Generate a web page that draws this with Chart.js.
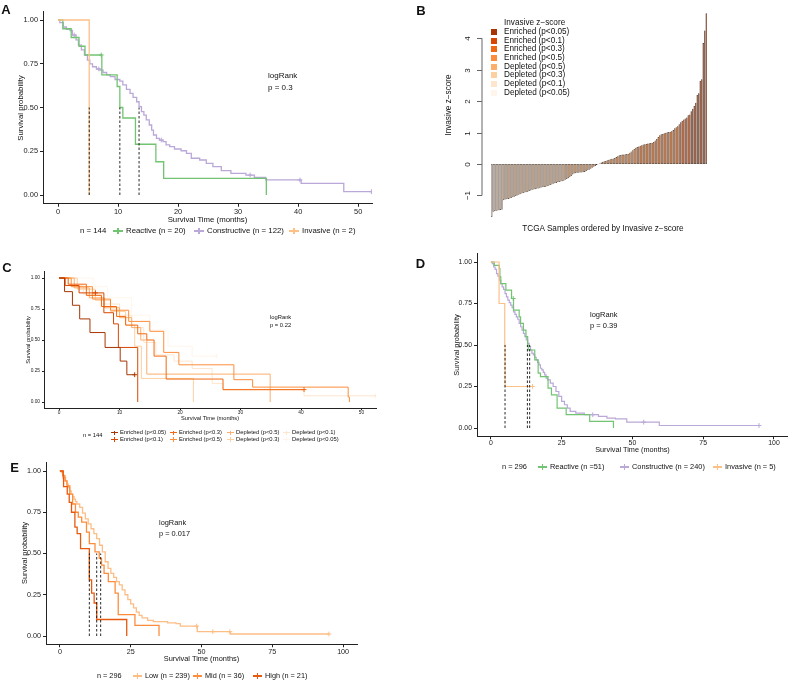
<!DOCTYPE html>
<html>
<head>
<meta charset="utf-8">
<script src="https://cdn.jsdelivr.net/npm/chart.js@4.4.1/dist/chart.umd.min.js"></script>
<style>
body { margin: 0; background: #fff; }
#fig { position: relative; width: 792px; height: 687px; overflow: hidden; font-family: "Liberation Sans", Arial, sans-serif; color: #111; }
#fig canvas { position: absolute; }
.t { position: absolute; white-space: nowrap; line-height: 1; }
.key { position: absolute; height: 1.3px; }
.key::after { content: ''; position: absolute; left: 50%; top: -2.2px; width: 1.1px; height: 5.6px; margin-left: -0.55px; background: inherit; }
.key.small::after { top: -1.5px; height: 4.2px; width: 0.9px; }
.sq { position: absolute; width: 6px; height: 6px; }
</style>
</head>
<body>
<div id="fig">
  <canvas id="kmA" width="380" height="245" style="left:0;top:0"></canvas>
  <canvas id="barB" width="392" height="240" style="left:400px;top:0"></canvas>
  <canvas id="kmC" width="385" height="190" style="left:0;top:255px"></canvas>
  <canvas id="kmD" width="392" height="215" style="left:400px;top:245px"></canvas>
  <canvas id="kmE" width="380" height="210" style="left:0;top:455px"></canvas>
</div>
<script>
// ---- data ----

const survTicks = [0, 0.25, 0.5, 0.75, 1];
const monthTicksShort = [0, 10, 20, 30, 40, 50];
const monthTicksLong = [0, 25, 50, 75, 100];

// A: subtype survival, TCGA (n = 144)
const classNamesA = ['Reactive (n = 20)', 'Constructive (n = 122)', 'Invasive (n = 2)'];
const classColors = ['#72C472', '#B9A8D8', '#FDC086'];
const aReactT = [0, 0.8, 2.2, 3.5, 4.5, 7.2, 7.3, 9.85, 10.3, 10.8, 12.9, 16.3, 17.6, 34.7];
const aReactS = [1, 0.95, 0.90, 0.85, 0.80, 0.80, 0.686, 0.62, 0.50, 0.44, 0.29, 0.19, 0.095, 0];
const aConsT = [0, 0.3, 0.9, 1.4, 2.0, 2.4, 2.7, 3.0, 3.4, 3.9, 4.4, 4.9, 5.3, 5.75, 6.4, 6.8, 7.0, 7.5, 8.1, 8.7, 9.5, 10.3, 10.8, 11.4, 12.0, 12.5, 13.1, 13.5, 13.9, 14.3, 14.7, 15.2, 15.6, 15.9, 16.4, 16.9, 17.2, 17.5, 18.0, 18.6, 19.4, 20.5, 21.4, 22.2, 23.6, 24.7, 25.8, 27.2, 28.8, 31.3, 32.0, 32.7, 34.6, 40.3, 40.5, 47.6, 52.2];
const aConsS = [1, 0.985, 0.96, 0.947, 0.94, 0.914, 0.914, 0.886, 0.857, 0.829, 0.80, 0.771, 0.749, 0.733, 0.72, 0.72, 0.714, 0.70, 0.686, 0.676, 0.66, 0.651, 0.629, 0.604, 0.581, 0.558, 0.533, 0.505, 0.476, 0.457, 0.429, 0.40, 0.371, 0.343, 0.324, 0.314, 0.314, 0.305, 0.286, 0.276, 0.263, 0.253, 0.238, 0.21, 0.20, 0.181, 0.162, 0.139, 0.124, 0.114, 0.114, 0.10, 0.086, 0.086, 0.067, 0.019, 0.019];
const aInvT = [0, 5.2];
const aInvS = [1, 0];
const aMedians = [5.2, 10.3, 13.5];

// B: ordered invasive z-scores (144 samples)
const zScores = [
  -1.69, -1.52, -1.50, -1.49, -1.48, -1.47, -1.46, -1.45, -1.15,
  -1.13, -1.12, -1.11, -1.10, -1.08, -1.06, -1.04, -1.02, -1.00,
  -0.98, -0.96, -0.94, -0.92, -0.91, -0.90, -0.88, -0.86, -0.84, -0.82,
  -0.81, -0.80, -0.79, -0.78, -0.77, -0.75, -0.74, -0.73, -0.72, -0.71, -0.69,
  -0.67, -0.65, -0.63, -0.61, -0.60, -0.58, -0.57, -0.56, -0.55, -0.53,
  -0.50, -0.48, -0.45, -0.42, -0.38, -0.33, -0.30,
  -0.29, -0.28, -0.28, -0.27, -0.27, -0.26, -0.25,
  -0.22, -0.20, -0.18, -0.15, -0.12, -0.09, -0.06, -0.03, -0.01,
  0.02, 0.05, 0.07, 0.09, 0.10,
  0.12, 0.14, 0.15, 0.17, 0.18, 0.19,
  0.22, 0.25, 0.28, 0.29, 0.30, 0.30, 0.31, 0.32, 0.33,
  0.36, 0.40, 0.44, 0.48,
  0.52, 0.54, 0.56, 0.58, 0.60,
  0.62, 0.63, 0.64, 0.65, 0.66,
  0.67, 0.68, 0.70, 0.75, 0.80,
  0.86, 0.92, 0.95, 0.96,
  0.98, 1.00, 1.01, 1.02, 1.03, 1.04,
  1.08, 1.14, 1.17, 1.20,
  1.27, 1.33, 1.38, 1.42,
  1.45, 1.48, 1.55, 1.58,
  1.68, 1.76, 1.85,
  1.95, 2.20, 2.25,
  2.65, 2.70,
  3.85, 4.25, 4.80
];
const zTicks = [-1, 0, 1, 2, 3, 4];
const zGroupNames = ['Enriched (p<0.05)', 'Enriched (p<0.1)', 'Enriched (p<0.3)', 'Enriched (p<0.5)',
                     'Depleted (p<0.5)', 'Depleted (p<0.3)', 'Depleted (p<0.1)', 'Depleted (p<0.05)'];
const zGroupColors = ['#A63603', '#D94801', '#F16913', '#FD8D3C', '#FDAE6B', '#FDD0A2', '#FEE6CE', '#FFF5EB'];
const zCutoffs = [1.645, 1.282, 0.524, 0, -0.524, -1.282, -1.645];

// C: survival by z-score group (n = 144)
const cE05T = [0, 0.9, 2.2, 3.4, 5.1, 7.6, 10.1, 11.2, 12.5];
const cE05S = [1, 0.89, 0.78, 0.67, 0.56, 0.44, 0.33, 0.22, 0.22];
const cE10T = [0, 1.0, 3.3, 6.0, 7.4, 9.0, 9.8, 13.0];
const cE10S = [1, 0.94, 0.88, 0.88, 0.72, 0.63, 0.44, 0];
const cE30T = [0, 1.5, 4.5, 7.0, 9.5, 11.0, 13.0, 14.5, 15.7, 17.7, 27.1, 40.5];
const cE30S = [1, 0.95, 0.86, 0.77, 0.69, 0.62, 0.55, 0.50, 0.37, 0.185, 0.10, 0.10];
const cE50T = [0, 2.0, 5.5, 8.5, 11.5, 15.0, 17.3, 19.8, 28.9, 32.0, 47.8, 48.0];
const cE50S = [1, 0.93, 0.83, 0.74, 0.65, 0.57, 0.40, 0.30, 0.18, 0.12, 0.04, 0];
const cD50T = [0, 2.5, 5.0, 7.5, 10.0, 12.0, 13.5, 14.5, 34.9];
const cD50S = [1, 0.92, 0.84, 0.76, 0.68, 0.60, 0.50, 0.225, 0];
const cD30T = [0, 3.0, 6.0, 8.5, 11.0, 12.5, 13.6, 22.2];
const cD30S = [1, 0.91, 0.82, 0.73, 0.62, 0.45, 0.19, 0];
const cD10T = [0, 1.5, 4.0, 7.0, 10.0, 12.0, 14.0, 16.0, 19.0, 22.0, 25.3, 27.1, 40.5, 52.4];
const cD10S = [1, 0.94, 0.87, 0.79, 0.70, 0.60, 0.48, 0.38, 0.33, 0.27, 0.15, 0.095, 0.05, 0.05];
const cD05T = [0, 5.6, 8.0, 12.0, 15.0, 18.0, 22.0, 26.0];
const cD05S = [1, 0.93, 0.84, 0.70, 0.58, 0.45, 0.37, 0.37];

// D: subtype survival, validation (n = 296)
const classNamesD = ['Reactive (n =51)', 'Constructive (n = 240)', 'Invasive (n = 5)'];
const dReactT = [0, 1.2, 3.0, 3.2, 3.5, 5.3, 7.3, 7.9, 8.0, 10.0, 10.5, 11.5, 12.4, 13.0, 13.2, 15.5, 16.7, 17.5, 20.2, 21.4, 23.4, 26.6, 34.9, 43.3];
const dReactS = [1, 0.98, 0.96, 0.91, 0.87, 0.83, 0.78, 0.78, 0.71, 0.67, 0.63, 0.59, 0.55, 0.50, 0.47, 0.41, 0.33, 0.31, 0.24, 0.20, 0.12, 0.08, 0.04, 0];
const dConsT = [0, 0.5, 1, 1.5, 2, 2.5, 3, 3.5, 4, 4.5, 5, 5.5, 6, 6.5, 7, 7.5, 8, 8.5, 9, 9.5, 10, 10.5, 11, 11.5, 12, 12.5, 13, 13.5, 14, 14.5, 15, 15.5, 16, 16.5, 17, 17.5, 18, 18.5, 19, 19.5, 20, 21, 22, 23, 24, 25, 26, 27, 28, 30, 33, 36, 38, 41, 44, 48, 54, 59.5, 94.7];
const dConsS = [1, 0.99, 0.97, 0.955, 0.93, 0.915, 0.89, 0.87, 0.85, 0.835, 0.81, 0.79, 0.77, 0.755, 0.74, 0.725, 0.70, 0.685, 0.67, 0.655, 0.63, 0.61, 0.59, 0.57, 0.55, 0.53, 0.51, 0.49, 0.47, 0.45, 0.44, 0.425, 0.41, 0.395, 0.38, 0.36, 0.35, 0.335, 0.32, 0.30, 0.29, 0.27, 0.25, 0.22, 0.19, 0.16, 0.14, 0.12, 0.10, 0.09, 0.08, 0.08, 0.07, 0.06, 0.055, 0.035, 0.035, 0.015, 0.015];
const dInvT = [0, 2.9, 4.9, 5.0, 14.7];
const dInvS = [1, 0.75, 0.5, 0.25, 0.25];
const dMedians = [5.0, 12.9, 13.7];

// E: survival by invasive score tertile (n = 296)
const levelNames = ['Low (n = 239)', 'Mid (n = 36)', 'High (n = 21)'];
const levelColors = ['#FDBE85', '#FD8D3C', '#E65A0F'];
const eLowT = [0, 0.5, 1, 1.5, 2, 2.5, 3, 3.5, 4, 4.5, 5, 5.5, 6, 7, 8, 9, 10, 11, 12, 13, 14, 15, 16, 17, 18, 19, 20, 21, 22, 23, 24, 25, 26, 27, 28, 29, 31, 33, 38, 41, 42.5, 48.3, 48.5, 54, 60, 60.2, 95];
const eLowS = [1, 0.99, 0.975, 0.96, 0.94, 0.92, 0.90, 0.88, 0.86, 0.845, 0.83, 0.815, 0.80, 0.78, 0.745, 0.71, 0.68, 0.65, 0.62, 0.59, 0.55, 0.51, 0.45, 0.41, 0.38, 0.355, 0.33, 0.31, 0.28, 0.25, 0.22, 0.195, 0.17, 0.145, 0.125, 0.11, 0.095, 0.087, 0.08, 0.075, 0.06, 0.06, 0.026, 0.026, 0.026, 0.012, 0.012];
const eMidT = [0, 1.0, 1.8, 2.5, 3.5, 4.5, 5.5, 6.5, 7.7, 9.4, 10.4, 12.4, 13.9, 14.7, 15.6, 17.1, 19.5, 20.6, 26.5, 35.0];
const eMidS = [1, 0.97, 0.94, 0.91, 0.86, 0.80, 0.75, 0.72, 0.69, 0.63, 0.56, 0.51, 0.47, 0.43, 0.38, 0.33, 0.26, 0.13, 0.065, 0];
const eHighT = [0, 1.2, 1.3, 2.6, 3.3, 4.1, 5.3, 6.1, 7.3, 10.4, 11.2, 12.1, 13.0, 23.6];
const eHighS = [1, 0.955, 0.905, 0.86, 0.81, 0.75, 0.66, 0.62, 0.53, 0.34, 0.26, 0.20, 0.10, 0];
const eMedians = [10.4, 13.0, 14.4];

// ---- drawing ----

const FONT = '"Liberation Sans", Arial, sans-serif';
const fig = document.getElementById('fig');

function text(str, x, y, size, opts = {}) {
    const d = document.createElement('div');
    d.className = 't';
    d.textContent = str;
    d.style.left = x + 'px';
    d.style.top = y + 'px';
    d.style.fontSize = size + 'px';
    let tr = opts.left ? 'translate(0,-50%)' : 'translate(-50%,-50%)';
    if (opts.rotate) tr += ' rotate(-90deg)';
    d.style.transform = tr;
    if (opts.bold) d.style.fontWeight = 'bold';
    fig.appendChild(d);
    return d;
}

function key(x, y, w, color, small) {
    const k = document.createElement('div');
    k.className = small ? 'key small' : 'key';
    k.style.left = x + 'px';
    k.style.top = (y - 0.65) + 'px';
    k.style.width = w + 'px';
    k.style.background = color;
    fig.appendChild(k);
}

// legend: "n = ..." then keys at given x positions
function kmLegend(y, nX, nText, keyXs, keyW, names, colors, size) {
    text(nText, nX, y, size, { left: true });
    names.forEach((nm, i) => {
        key(keyXs[i], y, keyW, colors[i]);
        text(nm, keyXs[i] + keyW + 3, y, size, { left: true });
    });
}

function kmCurve(T, S, color, width) {
    return {
        data: T.map((t, i) => ({ x: t, y: S[i] })),
        borderColor: color,
        borderWidth: width,
        stepped: true,
        fill: false,
        pointStyle: 'cross',
        pointBorderColor: color,
        pointBorderWidth: 1,
        pointRadius: ctx => (ctx.dataIndex > 0 && S[ctx.dataIndex] === S[ctx.dataIndex - 1]) ? 2.4 : 0
    };
}

function medianLine(m) {
    return {
        data: [{ x: m, y: 0 }, { x: m, y: 0.5 }],
        borderColor: '#111',
        borderWidth: 0.9,
        borderDash: [2.5, 2],
        pointRadius: 0
    };
}

const axisBorder = { display: true, color: '#222', width: 1 };

function kmChart(id, box, xRange, xTicks, tickSize, datasets) {
    const tickLen = box.tickLen || 3;
    const grid = { display: true, drawOnChartArea: false, drawTicks: true, tickLength: tickLen, color: '#222', lineWidth: 1 };
    return new Chart(document.getElementById(id), {
        type: 'line',
        data: { datasets: datasets },
        options: {
            responsive: false,
            animation: false,
            events: [],
            layout: { padding: { top: box.top, right: box.right, left: 0, bottom: 0 } },
            plugins: { legend: { display: false }, tooltip: { enabled: false } },
            scales: {
                x: {
                    type: 'linear', min: xRange[0], max: xRange[1],
                    afterFit: s => { s.height = box.xh; },
                    afterBuildTicks: s => { s.ticks = xTicks.map(v => ({ value: v })); },
                    ticks: { font: { size: tickSize, family: FONT }, color: '#222', padding: box.tickPad === undefined ? 1 : box.tickPad, minRotation: 0, maxRotation: 0 },
                    grid: grid, border: axisBorder
                },
                y: {
                    type: 'linear', min: -0.05, max: 1.05,
                    afterFit: s => { s.width = box.left; },
                    afterBuildTicks: s => { s.ticks = survTicks.map(v => ({ value: v })); },
                    ticks: { font: { size: tickSize, family: FONT }, color: '#222', padding: 2, callback: v => v.toFixed(2) },
                    grid: grid, border: axisBorder
                }
            }
        }
    });
}

// Panel A
kmChart('kmA', { left: 43, top: 11.25, right: 8, xh: 41.25 }, [-2.5, 52.3], monthTicksShort, 7.4, [
    ...aMedians.map(medianLine),
    kmCurve(aInvT, aInvS, classColors[2], 1.3),
    kmCurve(aReactT, aReactS, classColors[0], 1.3),
    kmCurve(aConsT, aConsS, classColors[1], 1.3)
]);
text('A', 6, 9, 13, { bold: true });
text('Survival probability', 21, 107.5, 7.8, { rotate: true });
text('Survival Time (months)', 207.5, 219.5, 7.8);
text('logRank', 268, 76, 8, { left: true });
text('p = 0.3', 268, 88, 8, { left: true });
kmLegend(231, 80, 'n = 144', [113, 194, 289], 10, classNamesA, classColors, 7.8);

// Panel B
function zColor(v) {
    let i = 0;
    while (i < zCutoffs.length && v <= zCutoffs[i]) i++;
    return zGroupColors[i];
}
const zAxis = {
    id: 'zAxis',
    afterDraw(chart) {
        const { ctx, chartArea, scales } = chart;
        const y = scales.y;
        const x0 = chartArea.left - 9;
        ctx.save();
        ctx.strokeStyle = '#666';
        ctx.lineWidth = 1;
        ctx.beginPath();
        ctx.moveTo(x0, y.getPixelForValue(zTicks[0]));
        ctx.lineTo(x0, y.getPixelForValue(zTicks[zTicks.length - 1]));
        ctx.stroke();
        ctx.fillStyle = '#222';
        ctx.font = '8px ' + FONT;
        ctx.textAlign = 'center';
        ctx.textBaseline = 'middle';
        zTicks.forEach(v => {
            const py = Math.round(y.getPixelForValue(v)) + 0.5;
            ctx.beginPath();
            ctx.moveTo(x0, py);
            ctx.lineTo(x0 - 5, py);
            ctx.stroke();
            ctx.save();
            ctx.translate(x0 - 14, py);
            ctx.rotate(-Math.PI / 2);
            ctx.fillText(String(v).replace('-', '\u2212'), 0, 0);
            ctx.restore();
        });
        ctx.restore();
    }
};
new Chart(document.getElementById('barB'), {
    type: 'bar',
    data: {
        labels: zScores.map((_, i) => i + 1),
        datasets: [{
            data: zScores,
            backgroundColor: zScores.map(zColor),
            borderColor: 'rgba(25,12,4,0.85)',
            borderWidth: 0.55,
            borderSkipped: false,
            inflateAmount: 0,
            barPercentage: 1,
            categoryPercentage: 1
        }]
    },
    options: {
        responsive: false,
        animation: false,
        events: [],
        layout: { padding: { left: 91, top: 11.7, right: 85, bottom: 21 } },
        plugins: { legend: { display: false }, tooltip: { enabled: false } },
        scales: {
            x: { display: false },
            y: { display: false, min: -1.75, max: 4.85 }
        }
    },
    plugins: [zAxis]
});
text('B', 421, 10, 13, { bold: true });
text('Invasive z\u2212score', 449, 105, 8.2, { rotate: true });
text('TCGA Samples ordered by Invasive z\u2212score', 603, 229, 8.2);
text('Invasive z\u2212score', 504, 23, 8.2, { left: true });
zGroupNames.forEach((nm, i) => {
    const yy = 32 + i * 8.67;
    const s = document.createElement('div');
    s.className = 'sq';
    s.style.left = '491px';
    s.style.top = (yy - 3) + 'px';
    s.style.background = zGroupColors[i];
    fig.appendChild(s);
    text(nm, 504, yy, 8.2, { left: true });
});

// Panel C
const cCurves = [
    [cE05T, cE05S], [cE10T, cE10S], [cE30T, cE30S], [cE50T, cE50S],
    [cD50T, cD50S], [cD30T, cD30S], [cD10T, cD10S], [cD05T, cD05S]
];
kmChart('kmC', { left: 44, top: 16.8, right: 9, xh: 36.8, tickLen: 2, tickPad: 0 }, [-2.5, 52.4], monthTicksShort, 4.8,
    cCurves.map((c, i) => kmCurve(c[0], c[1], zGroupColors[i], 1)));
text('C', 7, 266.5, 13, { bold: true });
text('Survival probability', 29, 340, 5.7, { rotate: true });
text('Survival Time (months)', 210, 418.5, 5.7);
text('logRank', 270, 318, 5.8, { left: true });
text('p = 0.22', 270, 326, 5.8, { left: true });
text('n = 144', 83, 436, 5.8, { left: true });
const cKeyX = [111, 170, 227, 283];
zGroupNames.forEach((nm, i) => {
    const col = Math.floor(i / 2), row = i % 2;
    const yy = row === 0 ? 432.7 : 439.5;
    key(cKeyX[col], yy, 7, zGroupColors[i], true);
    text(nm, cKeyX[col] + 9, yy, 5.8, { left: true });
});

// Panel D
kmChart('kmD', { left: 77, top: 8.7, right: 4, xh: 23.7, tickPad: 0 }, [-4.9, 104.6], monthTicksLong, 6.9, [
    ...dMedians.map(medianLine),
    kmCurve(dInvT, dInvS, classColors[2], 1.2),
    kmCurve(dReactT, dReactS, classColors[0], 1.2),
    kmCurve(dConsT, dConsS, classColors[1], 1.2)
]);
text('D', 420.5, 263, 13, { bold: true });
text('Survival probability', 457, 345, 7.3, { rotate: true });
text('Survival Time (months)', 632.5, 449.5, 7.3);
text('logRank', 590, 315, 7.5, { left: true });
text('p = 0.39', 590, 326, 7.5, { left: true });
kmLegend(467, 502, 'n = 296', [538, 620, 713], 9, classNamesD, classColors, 7.4);

// Panel E
kmChart('kmE', { left: 46, top: 7.75, right: 23, xh: 20.75, tickPad: 0 }, [-4.9, 104.9], monthTicksLong, 7.2, [
    ...eMedians.map(medianLine),
    kmCurve(eHighT, eHighS, levelColors[2], 1.3),
    kmCurve(eMidT, eMidS, levelColors[1], 1.3),
    kmCurve(eLowT, eLowS, levelColors[0], 1.3)
]);
text('E', 14.5, 466.5, 13, { bold: true });
text('Survival probability', 25, 553, 7.4, { rotate: true });
text('Survival Time (months)', 201.5, 658.5, 7.4);
text('logRank', 159, 523, 7.4, { left: true });
text('p = 0.017', 159, 534, 7.4, { left: true });
kmLegend(676, 97, 'n = 296', [133, 193, 253], 9, levelNames, levelColors, 7.3);
</script>
</body>
</html>
